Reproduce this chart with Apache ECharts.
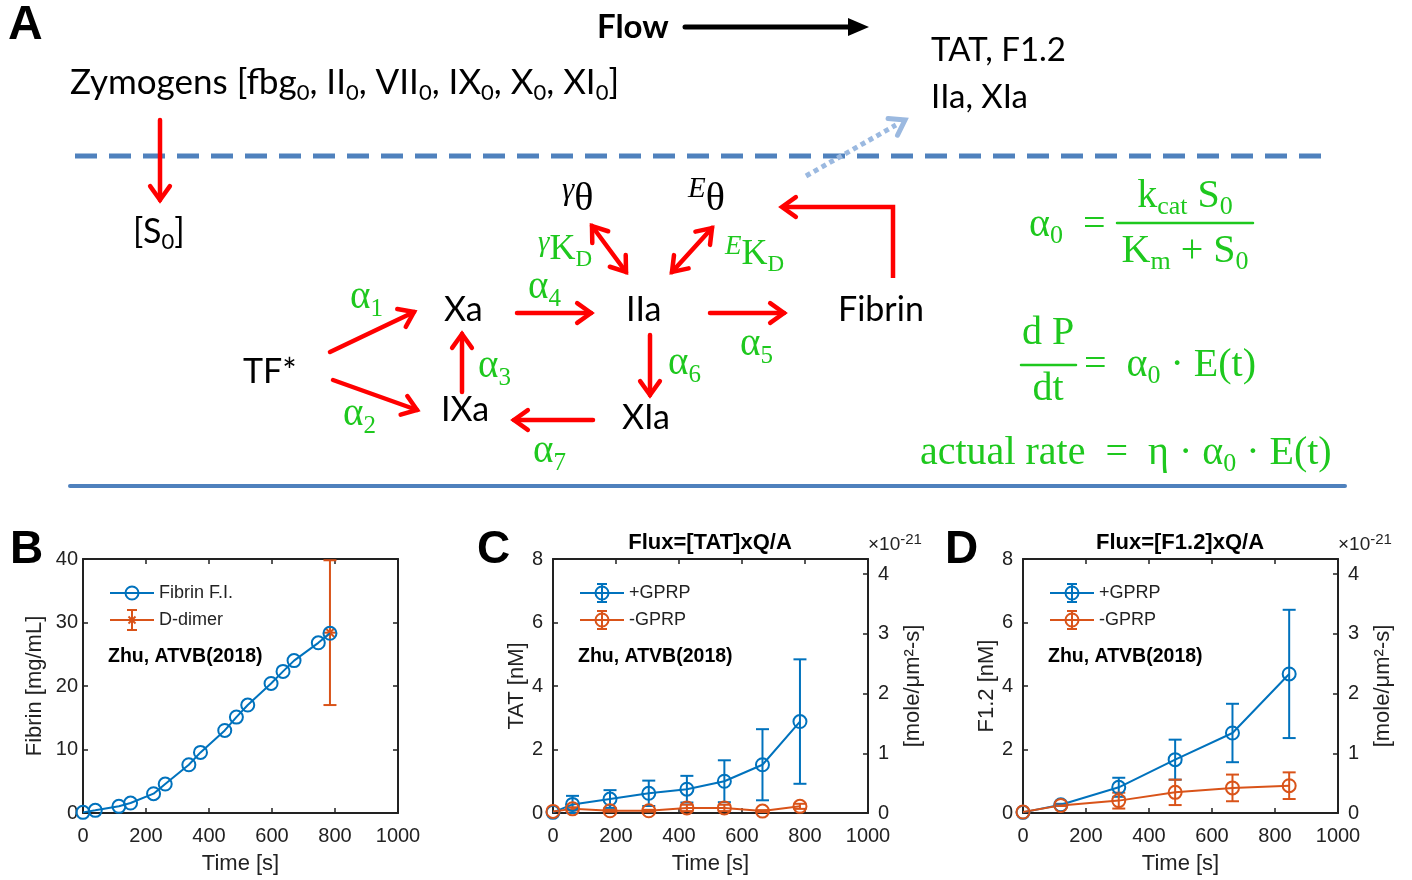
<!DOCTYPE html>
<html>
<head>
<meta charset="utf-8">
<script src="https://cdn.jsdelivr.net/npm/echarts@6/dist/echarts.min.js"></script>
<style>
html,body{margin:0;padding:0;background:#fff;}
#chart{width:1412px;height:880px;}
</style>
</head>
<body>
<div id="chart"></div>
<script>
// ---------------- DATA ----------------
// Panel B
const timeB = [0, 39, 114, 151, 224, 261, 336, 373, 450, 487, 523, 597, 635, 670, 747, 784];
const fibrinFI = [0.1, 0.42, 1.05, 1.57, 3.04, 4.56, 7.6, 9.54, 13.0, 15.1, 17.0, 20.4, 22.3, 24.0, 26.8, 28.3];
const dDimerTime = [784];
const dDimerMean = [28.4];
const dDimerErr = [11.4];
// Panel C
const timeC = [0, 62, 181, 304, 425, 544, 665, 784];
const tatPlus = [0.02, 0.27, 0.44, 0.62, 0.75, 1.0, 1.52, 2.88];
const tatPlusErr = [0, 0.27, 0.28, 0.40, 0.42, 0.66, 1.12, 1.96];
const tatMinus = [0.05, 0.13, 0.07, 0.07, 0.16, 0.16, 0.06, 0.21];
const tatMinusErr = [0, 0.05, 0.03, 0.03, 0.1, 0.1, 0.03, 0.08];
// Panel D
const timeD = [0, 120, 304, 483, 665, 845];
const f12Plus = [0.02, 0.26, 0.81, 1.68, 2.52, 4.38];
const f12PlusErr = [0, 0.03, 0.3, 0.63, 0.92, 2.02];
const f12Minus = [0.03, 0.24, 0.39, 0.65, 0.79, 0.86];
const f12MinusErr = [0, 0.02, 0.25, 0.4, 0.42, 0.42];
// Axes
const xTicks = {min: 0, max: 1000, interval: 200};
const yTicksB = {min: 0, max: 40, interval: 10};
const yTicksCD = {min: 0, max: 8, interval: 2};
const fluxAxisMax = 4.255; // right axis (x10^-21) corresponding to 8 nM
const fluxInterval = 1;

// ---------------- STYLE ----------------
const BLUE = '#0072BD', ORANGE = '#D95319', AX = '#222222';
const SANS = "'Liberation Sans', Arial, sans-serif";
const DIAG = "Lato, 'Open Sans', sans-serif";
const MATH = "'Liberation Serif', 'DejaVu Serif', serif";
const RED = '#ff0000', GREEN = '#1ec81e', LBLUE = '#4f81bd';

const chart = echarts.init(document.getElementById('chart'), null, {renderer: 'canvas'});

const grids = [
  {left: 83, top: 559, width: 315, height: 254},
  {left: 553, top: 559, width: 315, height: 254},
  {left: 1023, top: 559, width: 315, height: 254}
].map(g => Object.assign({outerBoundsMode: 'none', containLabel: false}, g));

function axLine() { return {show: true, onZero: false, lineStyle: {color: AX, width: 2}}; }
function axTick() { return {show: true, inside: true, length: 5, lineStyle: {color: AX, width: 1.5}}; }
const lblStyle = {fontSize: 20, color: AX, fontFamily: SANS};
const nameStyle = {fontSize: 22, color: AX, fontFamily: SANS};
const plain = v => String(v);

const xAxes = [], yAxes = [];
const leftNames = ['Fibrin [mg/mL]', 'TAT [nM]', 'F1.2 [nM]'];
for (let i = 0; i < 3; i++) {
  xAxes.push(Object.assign({type: 'value', gridIndex: i, position: 'bottom', axisLine: axLine(), axisTick: axTick(),
    axisLabel: Object.assign({margin: 13, formatter: plain}, lblStyle), splitLine: {show: false},
    name: 'Time [s]', nameLocation: 'middle', nameGap: 40, nameTextStyle: nameStyle, nameMoveOverlap: false}, xTicks));
  xAxes.push(Object.assign({type: 'value', gridIndex: i, position: 'top', axisLine: axLine(), axisTick: axTick(),
    axisLabel: {show: false}, splitLine: {show: false}}, xTicks));
  const yt = i === 0 ? yTicksB : yTicksCD;
  yAxes.push(Object.assign({type: 'value', gridIndex: i, position: 'left', axisLine: axLine(), axisTick: axTick(),
    axisLabel: Object.assign({margin: i === 0 ? 5 : 10, formatter: plain}, lblStyle), splitLine: {show: false},
    name: leftNames[i], nameLocation: 'middle', nameGap: i === 0 ? 37 : 25, nameTextStyle: nameStyle, nameMoveOverlap: false}, yt));
  if (i === 0) {
    yAxes.push(Object.assign({type: 'value', gridIndex: i, position: 'right', axisLine: axLine(), axisTick: axTick(),
      axisLabel: {show: false}, splitLine: {show: false}}, yt));
  } else {
    yAxes.push({type: 'value', gridIndex: i, position: 'right', min: 0, max: fluxAxisMax, interval: fluxInterval,
      axisLine: axLine(), axisTick: axTick(),
      axisLabel: Object.assign({margin: 10, formatter: v => (Math.abs(v - Math.round(v)) < 1e-6 ? String(Math.round(v)) : '')}, lblStyle),
      splitLine: {show: false},
      name: '[mole/μm²-s]', nameLocation: 'middle', nameGap: 34, nameTextStyle: nameStyle, nameMoveOverlap: false});
  }
}

function zip(a, b) { return a.map((v, i) => [v, b[i]]); }
function zip3(a, b, c) { return a.map((v, i) => [v, b[i], c[i]]); }

function lineSeries(name, gi, data, color) {
  return {type: 'line', name, xAxisIndex: 2 * gi, yAxisIndex: 2 * gi, data,
    symbol: 'circle', symbolSize: 13, showSymbol: true,
    itemStyle: {color: 'rgba(255,255,255,0)', borderColor: color, borderWidth: 2},
    lineStyle: {color, width: 2}, emphasis: {disabled: true}, clip: false, z: 3};
}
function errSeries(gi, data, color, star) {
  return {type: 'custom', xAxisIndex: 2 * gi, yAxisIndex: 2 * gi, data, clip: false, z: 3,
    renderItem: function (params, api) {
      const x = api.value(0), y = api.value(1), e = api.value(2);
      const c = api.coord([x, y]);
      const st = {stroke: color, lineWidth: 2};
      const ch = [];
      if (e > 0) {
        const t = api.coord([x, y + e]), b = api.coord([x, y - e]);
        const hw = 6.5;
        ch.push({type: 'line', shape: {x1: c[0], y1: t[1], x2: c[0], y2: b[1]}, style: st});
        ch.push({type: 'line', shape: {x1: c[0] - hw, y1: t[1], x2: c[0] + hw, y2: t[1]}, style: st});
        ch.push({type: 'line', shape: {x1: c[0] - hw, y1: b[1], x2: c[0] + hw, y2: b[1]}, style: st});
      }
      if (star) {
        const r = 6, d = 4.4;
        ch.push({type: 'line', shape: {x1: c[0] - r, y1: c[1], x2: c[0] + r, y2: c[1]}, style: st});
        ch.push({type: 'line', shape: {x1: c[0], y1: c[1] - r, x2: c[0], y2: c[1] + r}, style: st});
        ch.push({type: 'line', shape: {x1: c[0] - d, y1: c[1] - d, x2: c[0] + d, y2: c[1] + d}, style: st});
        ch.push({type: 'line', shape: {x1: c[0] - d, y1: c[1] + d, x2: c[0] + d, y2: c[1] - d}, style: st});
      }
      return {type: 'group', children: ch};
    }};
}

const series = [
  lineSeries('Fibrin F.I.', 0, zip(timeB, fibrinFI), BLUE),
  errSeries(0, zip3(dDimerTime, dDimerMean, dDimerErr), ORANGE, true),
  lineSeries('+GPRP', 1, zip(timeC, tatPlus), BLUE),
  errSeries(1, zip3(timeC, tatPlus, tatPlusErr), BLUE, false),
  lineSeries('-GPRP', 1, zip(timeC, tatMinus), ORANGE),
  errSeries(1, zip3(timeC, tatMinus, tatMinusErr), ORANGE, false),
  lineSeries('+GPRP', 2, zip(timeD, f12Plus), BLUE),
  errSeries(2, zip3(timeD, f12Plus, f12PlusErr), BLUE, false),
  lineSeries('-GPRP', 2, zip(timeD, f12Minus), ORANGE),
  errSeries(2, zip3(timeD, f12Minus, f12MinusErr), ORANGE, false)
];

// ---------------- GRAPHIC (diagram, legends, labels) ----------------
const G = [];
function txt(x, y, text, o) {
  G.push({type: 'text', x, y, silent: true, z: 10,
    style: Object.assign({text, fill: '#000', align: 'left', verticalAlign: 'middle'}, o)});
}
function rich(font, size, color, supScale) {
  const ss = Math.round(size * 0.64), ps = Math.round(size * (supScale || 0.7));
  return {
    s: {fontFamily: font, fontSize: ss, fill: color, verticalAlign: 'bottom', lineHeight: ss},
    p: {fontFamily: font, fontSize: ps, fill: color, verticalAlign: 'top', lineHeight: ps, fontStyle: 'italic'}
  };
}
function rtxt(x, y, text, font, size, color, o, supScale) {
  txt(x, y, text, Object.assign({fontFamily: font, fontSize: size, fill: color, lineHeight: Math.round(size * 1.2), rich: rich(font, size, color, supScale)}, o || {}));
}
function seg(x1, y1, x2, y2, color, w, dash) {
  G.push({type: 'line', silent: true, z: 5, shape: {x1, y1, x2, y2},
    style: {stroke: color, lineWidth: w, lineDash: dash || null, lineCap: dash ? 'butt' : 'round'}});
}
function head(xt, yt, xf, yf, color, w, L, ang) {
  const a = Math.atan2(yf - yt, xf - xt);
  const p1 = [xt + L * Math.cos(a + ang), yt + L * Math.sin(a + ang)];
  const p2 = [xt + L * Math.cos(a - ang), yt + L * Math.sin(a - ang)];
  G.push({type: 'polyline', silent: true, z: 5, shape: {points: [p1, [xt, yt], p2]},
    style: {stroke: color, lineWidth: w, fill: null, lineCap: 'round', lineJoin: 'miter'}});
}
function arrow(x1, y1, x2, y2, both) {
  seg(x1, y1, x2, y2, RED, 4.5);
  head(x2, y2, x1, y1, RED, 4.5, 17, 0.62);
  if (both) head(x1, y1, x2, y2, RED, 4.5, 17, 0.62);
}

// Panel letters
txt(8, 26, 'A', {fontFamily: SANS, fontWeight: 'bold', fontSize: 48});
txt(10, 550, 'B', {fontFamily: SANS, fontWeight: 'bold', fontSize: 46});
txt(477, 550, 'C', {fontFamily: SANS, fontWeight: 'bold', fontSize: 46});
txt(945, 550, 'D', {fontFamily: SANS, fontWeight: 'bold', fontSize: 46});

// Flow
txt(597, 27, 'Flow', {fontFamily: DIAG, fontWeight: 'bold', fontSize: 33});
seg(685, 27, 852, 27, '#000', 5);
G.push({type: 'polygon', silent: true, shape: {points: [[869, 27], [848, 18], [848, 36]]}, style: {fill: '#000'}});

// Black diagram labels
const DS = 34;
rtxt(70, 83, 'Zymogens [fbg{s|0}, II{s|0}, VII{s|0}, IX{s|0}, X{s|0}, XI{s|0}]', DIAG, 35, '#000');
txt(931, 50, 'TAT, F1.2', {fontFamily: DIAG, fontSize: 33});
txt(931, 97, 'IIa, XIa', {fontFamily: DIAG, fontSize: 33});
rtxt(133, 232, '[S{s|0}]', DIAG, DS, '#000');
txt(444, 310, 'Xa', {fontFamily: DIAG, fontSize: DS});
txt(626, 310, 'IIa', {fontFamily: DIAG, fontSize: DS});
txt(838, 310, 'Fibrin', {fontFamily: DIAG, fontSize: DS});
txt(243, 372, 'TF*', {fontFamily: DIAG, fontSize: DS});
txt(441, 410, 'IXa', {fontFamily: DIAG, fontSize: DS});
txt(622, 418, 'XIa', {fontFamily: DIAG, fontSize: DS});
rtxt(562, 199, '{p|γ}θ', MATH, 40, '#000', null, 0.78);
rtxt(688, 199, '{p|E}θ', MATH, 40, '#000', null, 0.72);

// Green labels
const GS = 39;
rtxt(538, 250, '{p|γ}K{s|D}', MATH, 36, GREEN, null, 0.8);
rtxt(725, 255, '{p|E}K{s|D}', MATH, 36, GREEN, null, 0.75);
rtxt(350, 298, 'α{s|1}', MATH, GS, GREEN);
rtxt(343, 415, 'α{s|2}', MATH, GS, GREEN);
rtxt(478, 367, 'α{s|3}', MATH, GS, GREEN);
rtxt(528, 288, 'α{s|4}', MATH, GS, GREEN);
rtxt(740, 345, 'α{s|5}', MATH, GS, GREEN);
rtxt(668, 364, 'α{s|6}', MATH, GS, GREEN);
rtxt(533, 452, 'α{s|7}', MATH, GS, GREEN);

// Formulas
const FS = 40;
rtxt(1029, 225, 'α{s|0}  = ', MATH, FS, GREEN);
rtxt(1185, 196, 'k{s|cat} S{s|0}', MATH, FS, GREEN, {align: 'center'});
seg(1117, 223, 1253, 223, GREEN, 2.5);
rtxt(1185, 251, 'K{s|m} + S{s|0}', MATH, FS, GREEN, {align: 'center'});
txt(1048, 333, 'd P', {fontFamily: MATH, fontSize: FS, fill: GREEN, align: 'center'});
seg(1021, 365, 1076, 365, GREEN, 2.5);
txt(1048, 389, 'dt', {fontFamily: MATH, fontSize: FS, fill: GREEN, align: 'center'});
rtxt(1084, 365, '=  α{s|0} · E(t)', MATH, FS, GREEN);
rtxt(920, 453, 'actual rate  =  η · α{s|0} · E(t)', MATH, FS, GREEN);

// Lines
seg(75, 156, 1330, 156, LBLUE, 5, [22, 12]);
seg(70, 486, 1345, 486, LBLUE, 4);
seg(806, 176, 896, 125, '#9bb9e0', 5, [5, 4]);
head(905, 120, 806, 176, '#9bb9e0', 5, 17, 0.6);

// Red arrows
arrow(160, 120, 160, 200);
arrow(330, 352, 414, 312);
arrow(333, 380, 417, 410);
arrow(462, 392, 462, 334);
arrow(517, 313, 591, 313);
arrow(710, 313, 784, 313);
arrow(650, 335, 650, 395);
arrow(593, 420, 514, 420);
arrow(626, 272, 592, 226, true);
arrow(672, 272, 712, 228, true);
G.push({type: 'polyline', silent: true, z: 5, shape: {points: [[893, 278], [893, 207], [783, 207]]},
  style: {stroke: RED, lineWidth: 4.5, fill: null, lineJoin: 'miter'}});
head(782, 207, 893, 207, RED, 4.5, 17, 0.62);

// Chart legends & annotations
const legendDefs = [
  {dx: 0, rows: [{label: 'Fibrin F.I.', color: BLUE, type: 'circle'}, {label: 'D-dimer', color: ORANGE, type: 'star'}]},
  {dx: 470, rows: [{label: '+GPRP', color: BLUE, type: 'err'}, {label: '-GPRP', color: ORANGE, type: 'err'}]},
  {dx: 940, rows: [{label: '+GPRP', color: BLUE, type: 'err'}, {label: '-GPRP', color: ORANGE, type: 'err'}]}
];
legendDefs.forEach(ld => {
  ld.rows.forEach((r, k) => {
    const y = 593 + 27 * k, x0 = 110 + ld.dx, xc = 132 + ld.dx;
    G.push({type: 'line', silent: true, shape: {x1: x0, y1: y, x2: x0 + 44, y2: y}, style: {stroke: r.color, lineWidth: 2}});
    if (r.type === 'circle' || r.type === 'err') {
      G.push({type: 'circle', silent: true, shape: {cx: xc, cy: y, r: 6.5}, style: {stroke: r.color, lineWidth: 2, fill: 'rgba(0,0,0,0)'}});
    }
    if (r.type === 'err' || r.type === 'star') {
      const h = r.type === 'err' ? 9 : 10;
      G.push({type: 'line', silent: true, shape: {x1: xc, y1: y - h, x2: xc, y2: y + h}, style: {stroke: r.color, lineWidth: 2}});
      G.push({type: 'line', silent: true, shape: {x1: xc - 5, y1: y - h, x2: xc + 5, y2: y - h}, style: {stroke: r.color, lineWidth: 2}});
      G.push({type: 'line', silent: true, shape: {x1: xc - 5, y1: y + h, x2: xc + 5, y2: y + h}, style: {stroke: r.color, lineWidth: 2}});
    }
    if (r.type === 'star') {
      G.push({type: 'line', silent: true, shape: {x1: xc - 5, y1: y, x2: xc + 5, y2: y}, style: {stroke: r.color, lineWidth: 2}});
      G.push({type: 'line', silent: true, shape: {x1: xc - 3.5, y1: y - 3.5, x2: xc + 3.5, y2: y + 3.5}, style: {stroke: r.color, lineWidth: 2}});
      G.push({type: 'line', silent: true, shape: {x1: xc - 3.5, y1: y + 3.5, x2: xc + 3.5, y2: y - 3.5}, style: {stroke: r.color, lineWidth: 2}});
    }
    txt(159 + ld.dx, y, r.label, {fontFamily: SANS, fontSize: 18, fill: AX});
  });
  txt(108 + ld.dx, 657, 'Zhu, ATVB(2018)', {fontFamily: SANS, fontSize: 19.5, fontWeight: 'bold', fill: '#000'});
});

// Titles and exponent
txt(710, 543, 'Flux=[TAT]xQ/A', {fontFamily: SANS, fontSize: 22, fontWeight: 'bold', align: 'center'});
txt(1180, 543, 'Flux=[F1.2]xQ/A', {fontFamily: SANS, fontSize: 22, fontWeight: 'bold', align: 'center'});
[868, 1338].forEach(x => {
  txt(x, 545, '×10{e|-21}', {fontFamily: SANS, fontSize: 19, fill: AX, lineHeight: 26,
    rich: {e: {fontFamily: SANS, fontSize: 15, fill: AX, verticalAlign: 'top', lineHeight: 15}}});
});

chart.setOption({
  animation: false,
  backgroundColor: '#fff',
  grid: grids,
  xAxis: xAxes,
  yAxis: yAxes,
  series,
  graphic: {elements: G}
});
</script>
</body>
</html>
